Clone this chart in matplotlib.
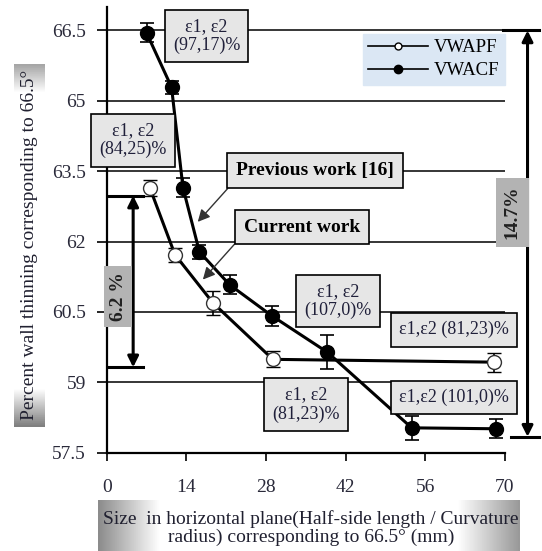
import matplotlib
matplotlib.use("Agg")
import matplotlib.pyplot as plt
import numpy as np
from matplotlib.lines import Line2D

plt.rcParams['font.family'] = ['Liberation Serif', 'DejaVu Serif']

# data
x_apf = [7.6, 12.0, 18.7, 29.2, 68.0]
y_apf = [63.14, 61.72, 60.69, 59.49, 59.43]
e_apf = [0.17, 0.15, 0.25, 0.17, 0.2]

x_acf = [7.0, 11.4, 13.4, 16.3, 21.6, 29.0, 38.8, 53.6, 68.4]
y_acf = [66.45, 65.29, 63.15, 61.78, 61.08, 60.42, 59.64, 58.03, 58.01]
e_acf = [0.2, 0.14, 0.2, 0.15, 0.2, 0.21, 0.36, 0.25, 0.2]

xticks = [0, 14, 28, 42, 56, 70]
yticks = [57.5, 59, 60.5, 62, 63.5, 65, 66.5]

fig = plt.figure(figsize=(5.42, 5.51), dpi=100)
ax = fig.add_axes([106.7 / 542, 1 - 452.7 / 551, (505 - 106.7) / 542, (452.7 - 7) / 551])
ax.set_xlim(0, 70)
ax.set_ylim(57.5, 67.0)

for y in yticks[1:]:
    ax.axhline(y, color='black', lw=1.1, zorder=1)

ax.errorbar(x_apf, y_apf, yerr=e_apf, color='black', lw=2.2, marker='o', ms=10,
            mfc='white', mec='#333333', mew=1.0, ecolor='black', elinewidth=1.2,
            capsize=5, capthick=1.2, zorder=3)
ax.errorbar(x_acf, y_acf, yerr=e_acf, color='black', lw=2.2, marker='o', ms=10,
            mfc='black', mec='black', ecolor='black', elinewidth=1.2,
            capsize=5, capthick=1.2, zorder=4)

for s in ['top', 'right']:
    ax.spines[s].set_visible(False)
ax.spines['left'].set_linewidth(1.6)
ax.spines['bottom'].set_linewidth(1.6)
ax.set_xticks(xticks)
ax.set_yticks(yticks)
ax.set_yticklabels(['57.5', '59', '60.5', '62', '63.5', '65', '66.5'])
ax.tick_params(axis='x', direction='out', length=6, width=1.2, pad=13, labelsize=14)
ax.tick_params(axis='y', direction='out', length=7, width=1.2, pad=8, labelsize=14)
for lab in ax.get_xticklabels() + ax.get_yticklabels():
    lab.set_color('#2a2a3a')

# legend
h = [Line2D([], [], color='black', lw=1.2, marker='o', ms=5, mfc='white', mec='black'),
     Line2D([], [], color='black', lw=1.2, marker='o', ms=6, mfc='black', mec='black')]
leg = ax.legend(h, ['VWAPF', 'VWACF'], loc='upper right', bbox_to_anchor=(1.0, 0.94),
                frameon=True, fancybox=False, borderaxespad=0, fontsize=13.5,
                handlelength=3.2, labelspacing=0.3, borderpad=0.3, handletextpad=0.3)
leg.get_frame().set_facecolor('#dbe7f4')
leg.get_frame().set_edgecolor('#dbe7f4')
leg.get_frame().set_alpha(1)

box = dict(boxstyle='square,pad=0.45', fc='#e6e6e6', ec='black', lw=1.2)
txt_c = '#20203a'
ax.text(17.55, 66.38, 'ε1, ε2\n(97,17)%', ha='center', va='center', fontsize=13,
        color=txt_c, bbox=box, zorder=6, linespacing=1.15)
ax.text(4.6, 64.16, 'ε1, ε2\n(84,25)%', ha='center', va='center', fontsize=13,
        color=txt_c, bbox=box, zorder=6, linespacing=1.15)
ax.text(40.65, 60.73, 'ε1, ε2\n(107,0)%', ha='center', va='center', fontsize=13,
        color=txt_c, bbox=box, zorder=6, linespacing=1.15)
ax.text(35.07, 58.53, 'ε1, ε2\n(81,23)%', ha='center', va='center', fontsize=13,
        color=txt_c, bbox=box, zorder=6, linespacing=1.15)
ax.text(61.1, 60.12, 'ε1,ε2 (81,23)%', ha='center', va='center', fontsize=13,
        color=txt_c, bbox=box, zorder=6)
ax.text(61.1, 58.68, 'ε1,ε2 (101,0)%', ha='center', va='center', fontsize=13,
        color=txt_c, bbox=box, zorder=6)

ax.annotate('Previous work [16]', xy=(16.0, 62.42), xytext=(36.6, 63.51),
            ha='center', va='center', fontsize=14, fontweight='bold', color='black',
            bbox=box, zorder=6,
            arrowprops=dict(arrowstyle='-|>', color='#333333', lw=1.0,
                            mutation_scale=18, shrinkA=0, shrinkB=0,
                            relpos=(0.0, 0.0)))
ax.annotate('Current work', xy=(16.9, 61.19), xytext=(34.3, 62.31),
            ha='center', va='center', fontsize=14, fontweight='bold', color='black',
            bbox=box, zorder=6,
            arrowprops=dict(arrowstyle='-|>', color='#333333', lw=1.0,
                            mutation_scale=18, shrinkA=0, shrinkB=0,
                            relpos=(0.0, 0.1)))

# 6.2 % range marker
ax.annotate('', xy=(4.65, 62.98), xytext=(4.65, 59.32),
            arrowprops=dict(arrowstyle='<|-|>', color='black', lw=2.2, mutation_scale=16,
                            shrinkA=0, shrinkB=0), zorder=5)
ax.plot([0, 6.3], [62.98, 62.98], color='black', lw=2.2, zorder=5)
ax.plot([0, 6.3], [59.32, 59.32], color='black', lw=2.2, zorder=5)
ax.text(2.0, 60.83, '6.2 %', rotation=90, ha='center', va='center', fontsize=14,
        fontweight='bold', color='#202020', zorder=6,
        bbox=dict(boxstyle='square,pad=0.3', fc='#b3b3b3', ec='none'))

# 14.7% range marker (outside the axes)
ax.annotate('', xy=(73.96, 66.5), xytext=(73.96, 57.84), xycoords='data',
            arrowprops=dict(arrowstyle='<|-|>', color='black', lw=2.2, mutation_scale=16,
                            shrinkA=0, shrinkB=0), annotation_clip=False)
ax.plot([69.7, 76.0], [66.5, 66.5], color='black', lw=2.2, clip_on=False)
ax.plot([71.0, 76.0], [57.84, 57.84], color='black', lw=2.2, clip_on=False)
ax.text(71.3, 62.62, '14.7%', rotation=90, ha='center', va='center', fontsize=14,
        fontweight='bold', color='#202020', zorder=6, clip_on=False,
        bbox=dict(boxstyle='square,pad=0.4', fc='#b3b3b3', ec='none'))

# shaded backgrounds behind the axis titles
gx = np.concatenate([np.linspace(0.55, 1, 30), np.ones(140), np.linspace(1, 0.6, 30)])
bgx = fig.add_axes([98 / 542, 0, (520 - 98) / 542, 51 / 551])
bgx.imshow(gx[None, :], cmap='gray', vmin=0, vmax=1, aspect='auto')
bgx.axis('off')
gy = np.concatenate([np.linspace(0.65, 1, 15), np.ones(150), np.linspace(1, 0.5, 20)])
bgy = fig.add_axes([14 / 542, 1 - 427 / 551, 31 / 542, (427 - 64) / 551])
bgy.imshow(gy[:, None], cmap='gray', vmin=0, vmax=1, aspect='auto')
bgy.axis('off')

fig.text(311 / 542, 1 - 528 / 551,
         'Size  in horizontal plane(Half-side length / Curvature\nradius) corresponding to 66.5° (mm)',
         ha='center', va='center', fontsize=14, color='#202030', linespacing=1.05)
fig.text(30 / 542, 1 - 245 / 551, 'Percent wall thinning corresponding to 66.5°',
         rotation=90, ha='center', va='center', fontsize=14, color='#202030')

fig.savefig('out.png', dpi=100)
